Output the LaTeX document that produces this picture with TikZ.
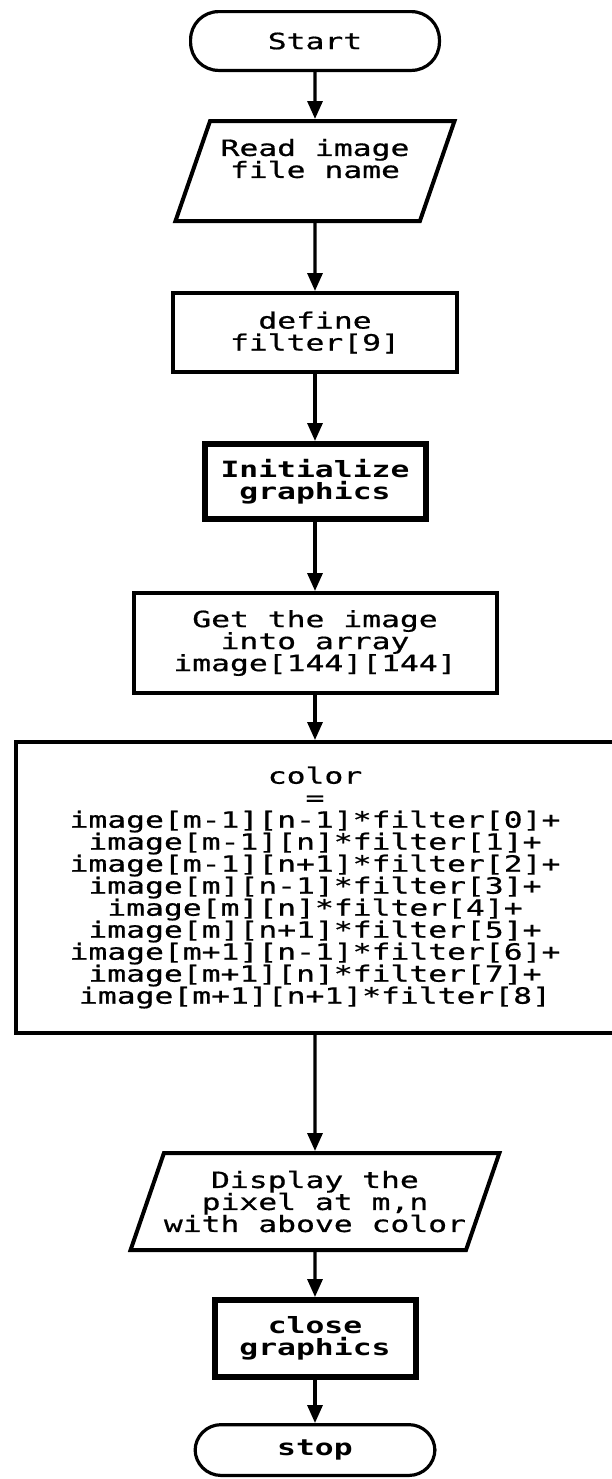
\documentclass[tikz,border=0pt]{standalone}
\usepackage{fontspec}
\newfontfamily\pixfont[FakeStretch=1.4, UprightFeatures={FakeBold=0.7}]{DejaVu Sans Mono}
\usetikzlibrary{positioning,shapes.geometric,arrows.meta}

\tikzset{
  base/.style={draw, align=center, inner sep=0pt,
    font=\pixfont\fontsize{11.2}{11}\selectfont},
  terminal/.style={base, line width=1.6pt, rounded corners=13pt,
    font=\pixfont\bfseries\fontsize{11.2}{11}\selectfont},
  io/.style={base, line width=2pt, trapezium, trapezium stretches body},
  process/.style={base, line width=2pt},
  heavy/.style={base, line width=3pt, font=\pixfont\bfseries\fontsize{11.2}{11}\selectfont},
  flow/.style={line width=1.6pt, -{Triangle[length=9pt,width=7.5pt]}},
}

\begin{document}
\begin{tikzpicture}[x=0.5pt,y=-0.5pt]
    \useasboundingbox (0,0) rectangle (611,1479);

    % Define nodes
    \node[terminal, minimum width=124.4pt, minimum height=29.4pt, rounded corners=14pt,
          font=\pixfont\fontsize{11.2}{11}\selectfont]
                                              at (315,41) (start) {Start};
    \node[io, below=23.5pt of start, minimum width=139.5pt, minimum height=50pt,
          text depth=12.6pt, trapezium left angle=61.7, trapezium right angle=118.3]
                                              (read) {Read image\\file name};
    \node[process, below=34pt of read, minimum width=142pt, minimum height=39.5pt]
                                              (define) {define\\filter[9]};
    \node[heavy, below=33.5pt of define, minimum width=110.5pt, minimum height=37.5pt]
                                              (init) {Initialize\\graphics};
    \node[process, below=34.5pt of init, minimum width=181.5pt, minimum height=50pt]
                                              (load) {Get the image\\into array\\image[144][144]};
    \node[process, below=22.5pt of load, minimum width=299pt, minimum height=145.5pt]
                                              (conv) {color\\=\\
      image[m-1][n-1]*filter[0]+\\image[m-1][n]*filter[1]+\\
      image[m-1][n+1]*filter[2]+\\image[m][n-1]*filter[3]+\\
      image[m][n]*filter[4]+\\image[m][n+1]*filter[5]+\\
      image[m+1][n-1]*filter[6]+\\image[m+1][n]*filter[7]+\\
      image[m+1][n+1]*filter[8]};
    \node[io, below=58pt of conv, minimum width=174pt, minimum height=48.5pt,
          trapezium left angle=61.5, trapezium right angle=118.5]
                                              (show) {Display the\\pixel at m,n\\with above color};
    \node[heavy, below=22.5pt of show, minimum width=100.5pt, minimum height=38.5pt]
                                              (close) {close\\graphics};
    \node[terminal, below=21.5pt of close, minimum width=119.9pt, minimum height=25.4pt]
                                              (stop) {stop};

    % Connect the nodes
    \foreach \a/\b in {start/read, read/define, define/init, init/load,
                       load/conv, conv/show, show/close, close/stop}
      \draw[flow] (\a) -- (\b);

\end{tikzpicture}
\end{document}
